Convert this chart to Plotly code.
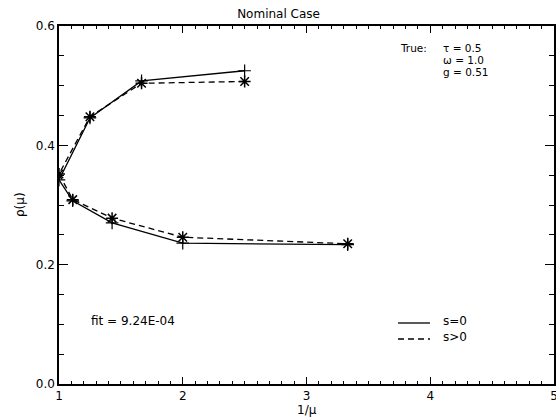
import plotly.graph_objects as go

# 1/mu values (upper branch then lower branch)
inv_mu = [2.5, 1.667, 1.25, 1.0, 1.111, 1.429, 2.0, 3.333]
rho_s0 = [0.525, 0.508, 0.446, 0.342, 0.307, 0.270, 0.236, 0.2335]
rho_sp = [0.507, 0.504, 0.448, 0.352, 0.309, 0.278, 0.246, 0.235]

x_ticks = [1, 2, 3, 4, 5]
y_ticks = [0.0, 0.2, 0.4, 0.6]
y_tick_labels = ["0.0", "0.2", "0.4", "0.6"]

FONT = "DejaVu Sans"
FS = 12

fig = go.Figure()
fig.add_trace(go.Scatter(
    x=inv_mu, y=rho_s0, mode="lines+markers",
    line=dict(color="black", width=1.3),
    marker=dict(symbol="cross-thin-open", size=9, color="black",
                line=dict(color="black", width=1.2)),
    showlegend=False))
fig.add_trace(go.Scatter(
    x=inv_mu, y=rho_sp, mode="lines+markers",
    line=dict(color="black", width=1.3, dash="6px,4px"),
    marker=dict(symbol="asterisk-open", size=10, color="black",
                line=dict(color="black", width=1.5)),
    showlegend=False))

L, R, T, B = 59, 2, 26, 35
W, H = 556, 419
pw, ph = W - L - R, H - T - B

def px(x):
    return (x - L) / pw

def py(y):
    return (H - B - y) / ph

ann = []
def add_text(text, x, y, xanchor="left", size=FS, angle=0):
    ann.append(dict(text=text, x=px(x), y=py(y), xref="paper", yref="paper",
                    xanchor=xanchor, yanchor="middle", showarrow=False,
                    textangle=angle,
                    font=dict(family=FONT, size=size, color="black")))

add_text("True:", 398, 48, size=10.5)
add_text("τ = 0.5", 441, 48, size=10.5)
add_text("ω = 1.0", 441, 60, size=10.5)
add_text("g = 0.51", 441, 72, size=10.5)
add_text("fit = 9.24E-04", 89, 321)
add_text("s=0", 441, 321)
add_text("s>0", 441, 337)
add_text("1/μ", 307, 410, xanchor="center")
add_text("ρ(μ)", 20, 205, xanchor="center", angle=-90)

shapes = [
    dict(type="line", xref="paper", yref="paper", x0=px(398), x1=px(430),
         y0=py(323), y1=py(323), line=dict(color="black", width=1.3)),
    dict(type="line", xref="paper", yref="paper", x0=px(398), x1=px(430),
         y0=py(339), y1=py(339), line=dict(color="black", width=1.3, dash="6px,4px")),
]

fig.update_layout(
    width=W, height=H,
    margin=dict(l=L, r=R, t=T, b=B, autoexpand=False),
    paper_bgcolor="white", plot_bgcolor="white",
    font=dict(family=FONT, size=FS, color="black"),
    title=dict(text="Nominal Case", x=px(307), xanchor="center",
               y=1 - 14 / H, yanchor="middle",
               font=dict(family=FONT, size=FS, color="black")),
    annotations=ann, shapes=shapes,
)
fig.update_xaxes(
    range=[1, 5], tickvals=x_ticks, ticktext=[str(v) for v in x_ticks],
    automargin=False, ticklabeloverflow="allow",
    showgrid=False, zeroline=False, showline=True, linecolor="black", linewidth=1.5,
    mirror="ticks", ticks="inside", ticklen=7, tickwidth=1.2, tickcolor="black",
    minor=dict(ticks="inside", ticklen=3, dtick=0.1, tickwidth=1, tickcolor="black", showgrid=False),
    tickfont=dict(family=FONT, size=FS),
)
fig.update_yaxes(
    range=[0, 0.6], tickvals=y_ticks, ticktext=y_tick_labels,
    automargin=False,
    showgrid=False, zeroline=False, showline=True, linecolor="black", linewidth=1.5,
    mirror="ticks", ticks="inside", ticklen=9, tickwidth=1.2, tickcolor="black",
    minor=dict(ticks="inside", ticklen=5, dtick=0.05, tickwidth=1, tickcolor="black", showgrid=False),
    tickfont=dict(family=FONT, size=FS),
)

fig.write_html(
    "out.html",
    config={"displayModeBar": False},
    post_script="document.body.style.margin='0';document.body.style.overflow='hidden';",
)
